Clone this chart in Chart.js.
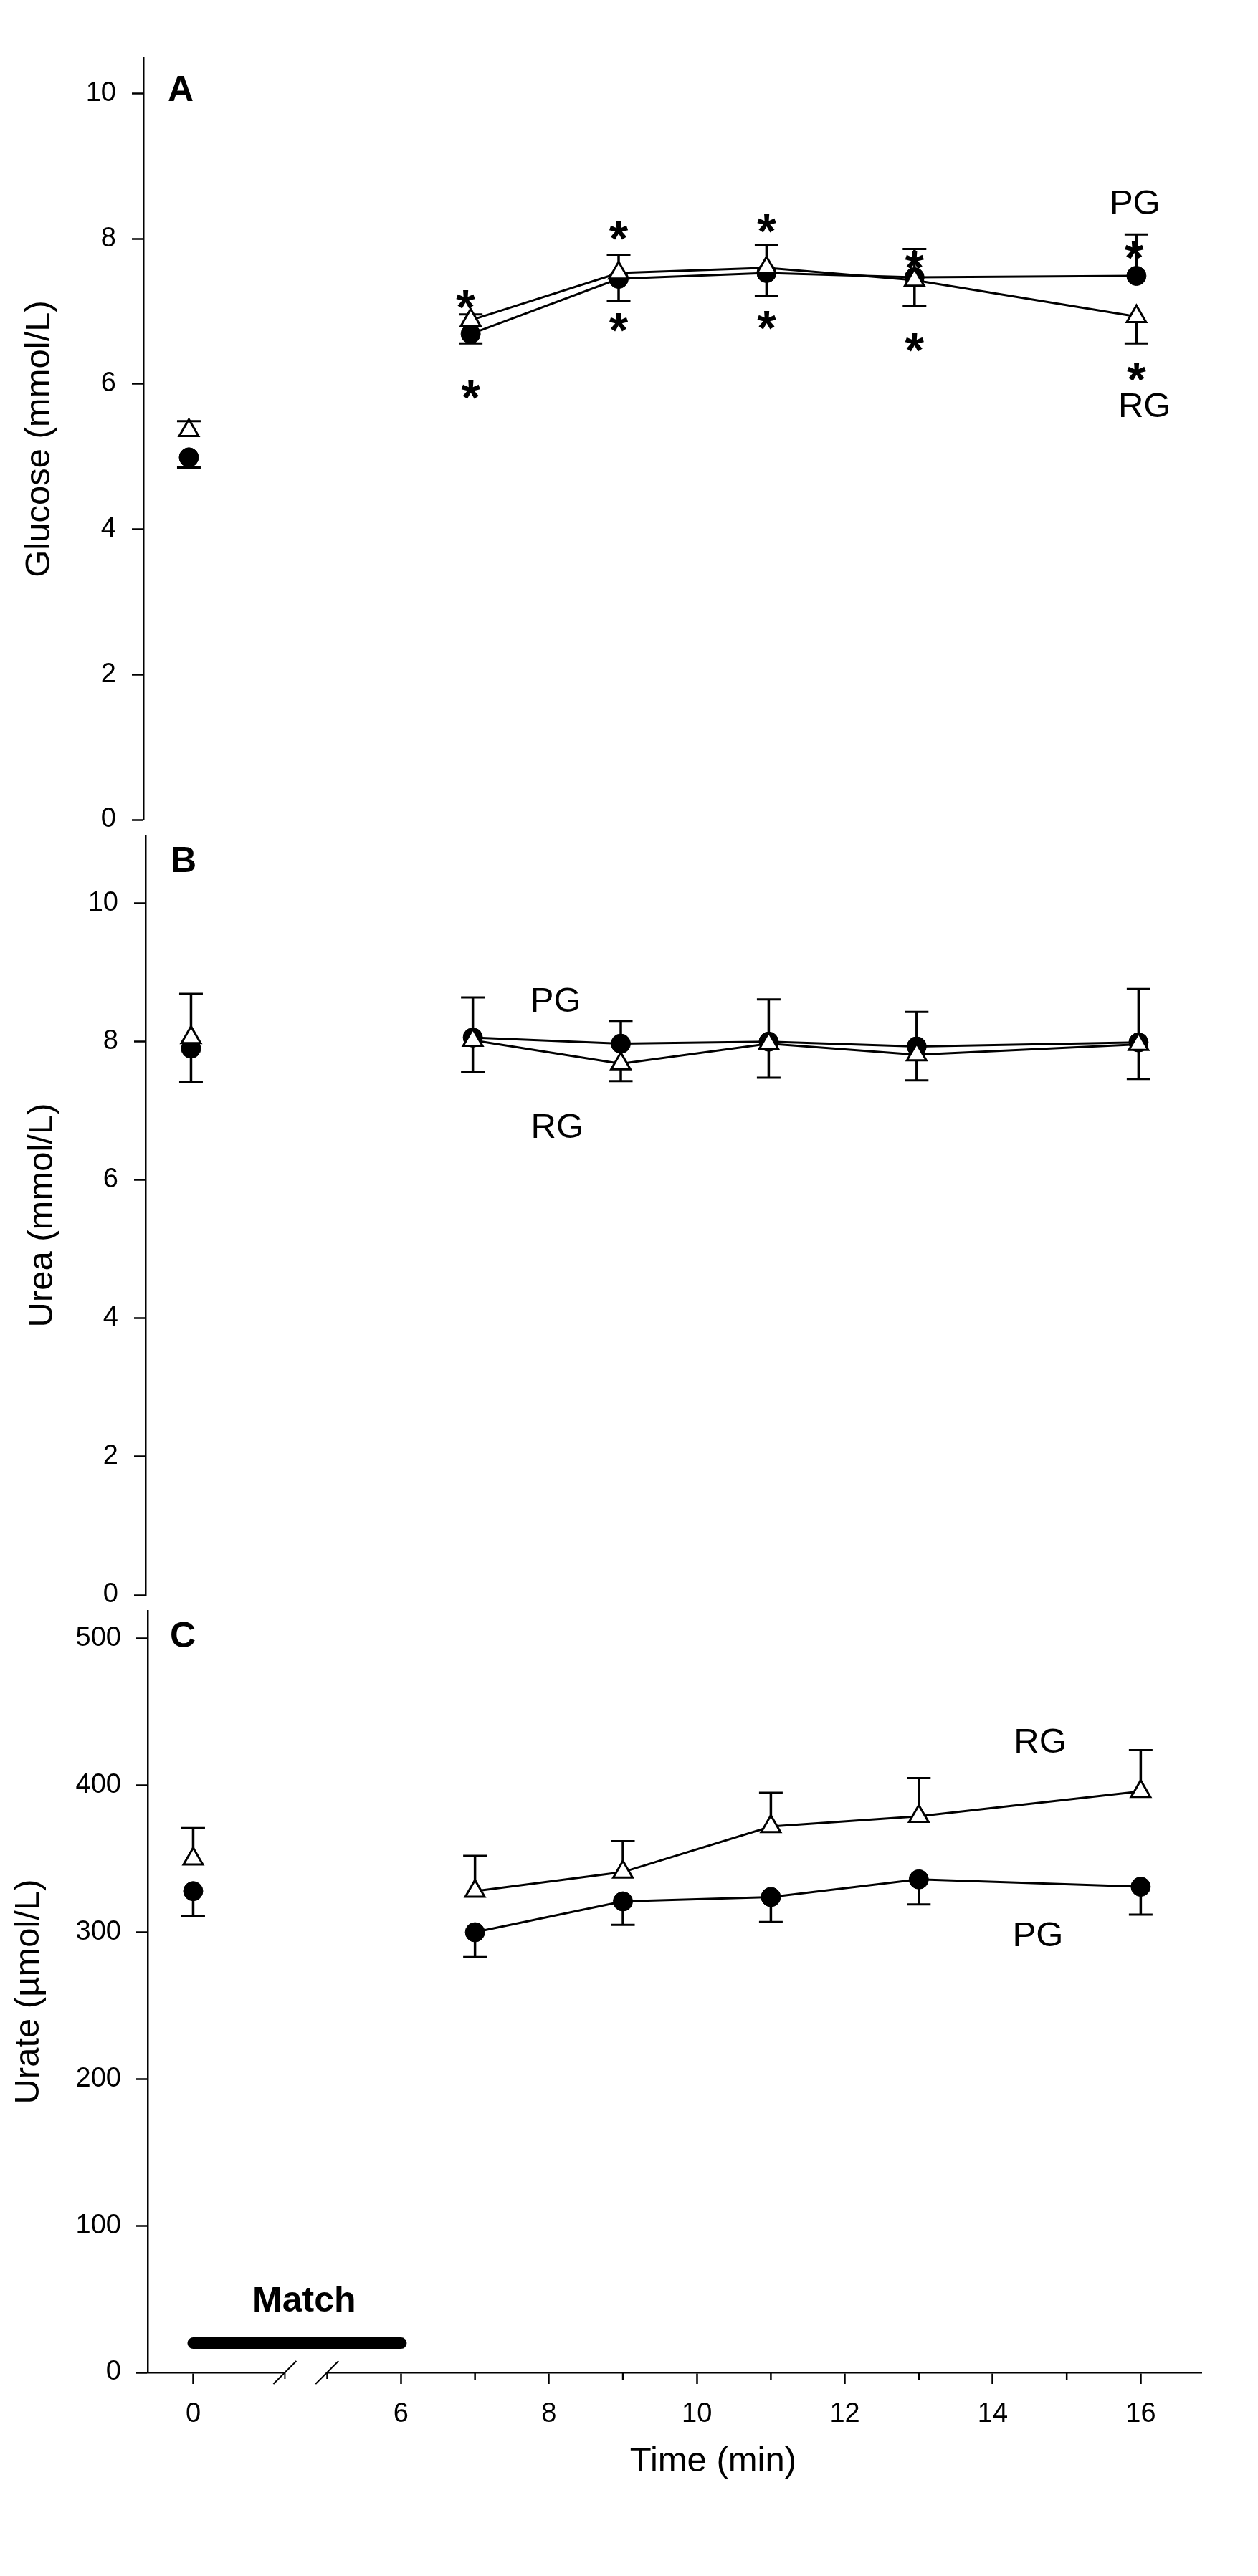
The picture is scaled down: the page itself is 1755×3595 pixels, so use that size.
<!DOCTYPE html>
<html>
<head>
<meta charset="utf-8">
<script src="https://cdn.jsdelivr.net/npm/chart.js@4.4.1/dist/chart.umd.min.js"></script>
<style>
    html, body { margin: 0; padding: 0; background: #fff; }
    body { width: 1755px; height: 3595px; position: relative; overflow: hidden; }
    canvas { position: absolute; }
</style>
</head>
<body>
<canvas id="panelA" width="1755" height="1190" style="left:-6px;top:0px"></canvas>
<canvas id="panelB" width="1755" height="1154" style="left:-3px;top:1118px"></canvas>
<canvas id="panelC" width="1755" height="1395" style="left:0px;top:2200px"></canvas>
<script>
// === DATA ===
const times = [0, 7, 9, 11, 13, 16];
const xTickTimes = [0, 6, 7, 8, 9, 10, 11, 12, 13, 14, 15, 16];
const xTickLabels = ["0", "6", "", "8", "", "10", "", "12", "", "14", "", "16"];

// Glucose (mmol/L)
const glucoseRG = [5.36, 6.88, 7.53, 7.60, 7.43, 6.93];
const glucosePG = [4.99, 6.69, 7.45, 7.53, 7.47, 7.49];
const glucoseRGErr = [0.13, 0.08, 0.25, 0.32, -0.36, -0.37];   // + drawn up, - drawn down
const glucosePGErr = [-0.14, -0.13, -0.31, -0.32, 0.39, 0.57];
const glucoseTicks = [0, 2, 4, 6, 8, 10];
const glucoseStarUpperX = [6.93, 9, 11, 13, 15.97];
const glucoseStarUpperY = [7.20, 8.15, 8.25, 7.75, 7.89];
const glucoseStarLowerX = [7, 9, 11, 13, 16];
const glucoseStarLowerY = [5.96, 6.89, 6.92, 6.61, 6.21];

// Urea (mmol/L)
const ureaRG = [8.06, 8.02, 7.68, 7.97, 7.81, 7.96];
const ureaPG = [7.90, 8.06, 7.97, 8.00, 7.93, 7.99];
const ureaRGErr = [0.63, -0.46, -0.25, -0.49, -0.37, -0.50];
const ureaPGErr = [-0.48, 0.58, 0.33, 0.61, 0.50, 0.77];
const ureaTicks = [0, 2, 4, 6, 8, 10];

// Urate (umol/L)
const urateRG = [350, 328, 341, 372, 379, 396];
const uratePG = [328, 300, 321, 324, 336, 331];
const urateRGErr = [21, 24, 21, 23, 26, 28];
const uratePGErr = [-17, -17, -16, -17, -17, -19];
const urateTicks = [0, 100, 200, 300, 400, 500];

const matchStart = 0;
const matchEnd = 6;
const matchLevel = 20;

// === AXIS GEOMETRY ===
const FONT = "'Liberation Sans', Arial, sans-serif";
const X_MIN = 2.575;
const X_MAX = 16.82;
const BASELINE_POS = 3.19;          // where t = 0 sits on the broken axis
const BREAKS = [4.43, 5.0];
const AXIS_X = 206;

function xPos(t) {
    return t >= 6 ? t : 6 - (6 - t) * (6 - BASELINE_POS) / 6;
}

// === PLUGINS ===
const errorBars = {
    id: "errorBars",
    beforeDatasetsDraw(chart) {
        const ctx = chart.ctx;
        const yScale = chart.scales.y;
        chart.data.datasets.forEach((ds, di) => {
            const meta = chart.getDatasetMeta(di);
            ds.errors.forEach((e, i) => {
                if (!e) return;
                const pt = meta.data[i];
                const yEnd = yScale.getPixelForValue(ds.data[i].y + e);
                ctx.save();
                ctx.strokeStyle = "#000";
                ctx.lineWidth = 3.5;
                ctx.beginPath();
                ctx.moveTo(pt.x, pt.y);
                ctx.lineTo(pt.x, yEnd);
                ctx.stroke();
                ctx.lineWidth = 3;
                ctx.beginPath();
                ctx.moveTo(pt.x - 16.5, yEnd);
                ctx.lineTo(pt.x + 16.5, yEnd);
                ctx.stroke();
                ctx.restore();
            });
        });
    }
};

const decor = {
    id: "decor",
    afterDraw(chart, args, opts) {
        const ctx = chart.ctx;
        const xs = chart.scales.x;
        const ys = chart.scales.y;
        const area = chart.chartArea;
        ctx.save();
        ctx.fillStyle = "#000";
        ctx.strokeStyle = "#000";

        // panel letter
        ctx.font = "bold 50px " + FONT;
        ctx.textAlign = "left";
        ctx.textBaseline = "middle";
        ctx.fillText(opts.letter, area.left + opts.letterOffset[0], area.top + opts.letterOffset[1]);

        // group labels
        ctx.font = "49px " + FONT;
        ctx.textAlign = "center";
        opts.labels.forEach(l => {
            ctx.fillText(l.text, xs.getPixelForValue(l.x), ys.getPixelForValue(l.y));
        });

        // asterisks
        const starSize = 68;
        ctx.font = "bold " + starSize + "px " + FONT;
        ctx.textBaseline = "alphabetic";
        (opts.stars || []).forEach(s => {
            s.x.forEach((t, i) => {
                ctx.fillText("*", xs.getPixelForValue(t), ys.getPixelForValue(s.y[i]) + 0.56 * starSize);
            });
        });

        if (opts.timeAxis) {
            const b = area.bottom;
            // minor ticks
            ctx.lineWidth = 2.5;
            xTickTimes.forEach((t, i) => {
                if (xTickLabels[i] !== "") return;
                const px = xs.getPixelForValue(xPos(t));
                ctx.beginPath();
                ctx.moveTo(px, b);
                ctx.lineTo(px, b + 10);
                ctx.stroke();
            });
            // axis break
            const b0 = xs.getPixelForValue(BREAKS[0]);
            const b1 = xs.getPixelForValue(BREAKS[1]);
            ctx.fillStyle = "#fff";
            ctx.fillRect(b0, b - 3, b1 - b0, 6);
            ctx.fillStyle = "#000";
            ctx.lineWidth = 2;
            [b0, b1].forEach(px => {
                ctx.beginPath();
                ctx.moveTo(px - 16, b + 16);
                ctx.lineTo(px + 16, b - 16);
                ctx.stroke();
                ctx.beginPath();
                ctx.moveTo(px, b);
                ctx.lineTo(px, b + 9);
                ctx.stroke();
            });
            // match bar
            ctx.lineWidth = 16;
            ctx.lineCap = "round";
            ctx.beginPath();
            ctx.moveTo(xs.getPixelForValue(xPos(matchStart)), ys.getPixelForValue(matchLevel));
            ctx.lineTo(xs.getPixelForValue(xPos(matchEnd)), ys.getPixelForValue(matchLevel));
            ctx.stroke();
            ctx.font = "bold 50px " + FONT;
            ctx.textAlign = "center";
            ctx.textBaseline = "middle";
            ctx.fillText("Match", xs.getPixelForValue(4.69), ys.getPixelForValue(48));
            // x title
            ctx.font = "49px " + FONT;
            ctx.fillText("Time (min)", xs.getPixelForValue(10.22), b + 124);
        }
        ctx.restore();
    }
};

// === BUILD A PANEL ===
function makePanel(id, p) {
    const showX = !!p.timeAxis;
    const datasets = [
        {
            label: "RG",
            data: times.map((t, i) => ({ x: xPos(t), y: p.rg[i] })),
            errors: p.rgErr,
            borderColor: "#000",
            borderWidth: 3,
            pointStyle: "triangle",
            pointRadius: 15.5,
            pointBorderWidth: 3,
            pointBackgroundColor: "#fff",
            pointBorderColor: "#000",
            segment: { borderColor: c => c.p0DataIndex === 0 ? "rgba(0,0,0,0)" : "#000" },
            tension: 0,
            fill: false
        },
        {
            label: "PG",
            data: times.map((t, i) => ({ x: xPos(t), y: p.pg[i] })),
            errors: p.pgErr,
            borderColor: "#000",
            borderWidth: 3,
            pointStyle: "circle",
            pointRadius: 13.5,
            pointBorderWidth: 1,
            pointBackgroundColor: "#000",
            pointBorderColor: "#000",
            segment: { borderColor: c => c.p0DataIndex === 0 ? "rgba(0,0,0,0)" : "#000" },
            tension: 0,
            fill: false
        }
    ];

    const xScale = {
        type: "linear",
        min: X_MIN,
        max: X_MAX,
        display: showX
    };
    if (showX) {
        Object.assign(xScale, {
            afterFit: s => { s.height = p.xAxisHeight; },
            afterBuildTicks: s => { s.ticks = xTickTimes.map(t => ({ value: xPos(t) })); },
            ticks: {
                color: "#000",
                font: { family: FONT, size: 38 },
                padding: 20,
                autoSkip: false,
                maxRotation: 0,
                callback: (v, i) => xTickLabels[i]
            },
            grid: {
                drawOnChartArea: false,
                tickLength: 16,
                tickWidth: 2.5,
                tickColor: c => xTickLabels[c.index] === "" ? "rgba(0,0,0,0)" : "#000"
            },
            border: { display: true, color: "#000", width: 2.5 }
        });
    }

    return new Chart(document.getElementById(id), {
        type: "line",
        data: { datasets },
        options: {
            responsive: false,
            animation: false,
            devicePixelRatio: 1,
            layout: { padding: { left: 0, right: 79, top: p.padTop, bottom: p.padBottom } },
            scales: {
                x: xScale,
                y: {
                    type: "linear",
                    min: 0,
                    max: p.yMax,
                    afterFit: s => { s.width = AXIS_X; },
                    afterBuildTicks: s => { s.ticks = p.yTicks.map(v => ({ value: v })); },
                    ticks: { color: "#000", font: { family: FONT, size: 38 }, padding: p.tickPad },
                    grid: { drawOnChartArea: false, tickLength: 16, tickWidth: 2.5, tickColor: "#000" },
                    border: { display: true, color: "#000", width: 2.5 },
                    title: {
                        display: true,
                        text: p.title,
                        color: "#000",
                        font: { family: FONT, size: 49 },
                        padding: { top: p.titlePad, bottom: 0 }
                    }
                }
            },
            plugins: {
                legend: { display: false },
                tooltip: { enabled: false },
                decor: {
                    letter: p.letter,
                    letterOffset: p.letterOffset,
                    labels: p.labels,
                    stars: p.stars,
                    timeAxis: showX
                }
            }
        },
        plugins: [errorBars, decor]
    });
}

// === PANELS ===
makePanel("panelA", {
    rg: glucoseRG, pg: glucosePG, rgErr: glucoseRGErr, pgErr: glucosePGErr,
    yMax: 10.49, yTicks: glucoseTicks, tickPad: 22,
    title: "Glucose (mmol/L)", titlePad: 32,
    padTop: 81, padBottom: 46,
    letter: "A", letterOffset: [34, 46],
    labels: [{ text: "PG", x: 15.98, y: 8.47 }, { text: "RG", x: 16.11, y: 5.68 }],
    stars: [
        { x: glucoseStarUpperX, y: glucoseStarUpperY },
        { x: glucoseStarLowerX, y: glucoseStarLowerY }
    ]
});

makePanel("panelB", {
    rg: ureaRG, pg: ureaPG, rgErr: ureaRGErr, pgErr: ureaPGErr,
    yMax: 10.98, yTicks: ureaTicks, tickPad: 22,
    title: "Urea (mmol/L)", titlePad: 33,
    padTop: 48, padBottom: 46,
    letter: "B", letterOffset: [35, 37],
    labels: [{ text: "PG", x: 8.12, y: 8.57 }, { text: "RG", x: 8.14, y: 6.75 }]
});

makePanel("panelC", {
    rg: urateRG, pg: uratePG, rgErr: urateRGErr, pgErr: uratePGErr,
    yMax: 519, yTicks: urateTicks, tickPad: 21,
    title: "Urate (\u00b5mol/L)", titlePad: 11,
    padTop: 48, padBottom: 0,
    letter: "C", letterOffset: [31, 37],
    labels: [{ text: "RG", x: 14.64, y: 429 }, { text: "PG", x: 14.61, y: 297 }],
    timeAxis: true, xAxisHeight: 284
});
</script>
</body>
</html>
